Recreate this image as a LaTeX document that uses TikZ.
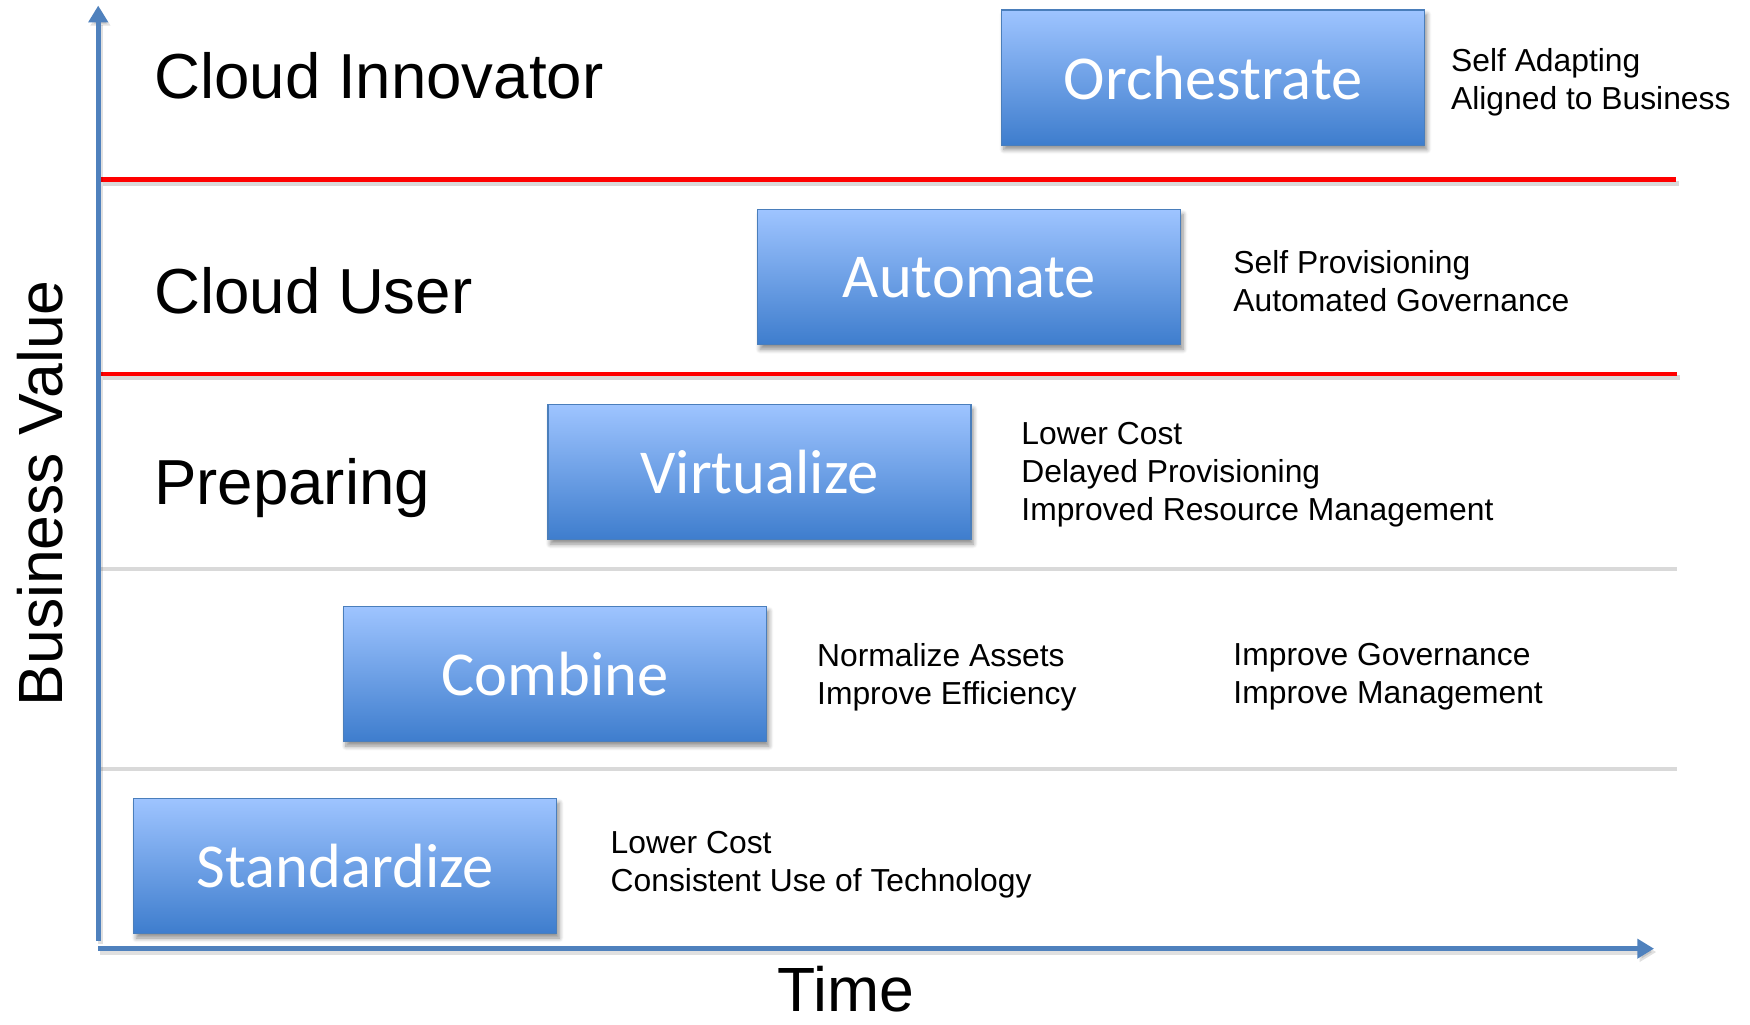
\documentclass[tikz,border=0pt]{standalone}
\usepackage{fontspec}
\setmainfont{Liberation Sans}
\newfontfamily\boxfont{Carlito}
\usetikzlibrary{arrows.meta,shadows,shadows.blur}
\definecolor{axisblue}{RGB}{79,129,189}
\definecolor{boxtop}{RGB}{158,196,255}
\definecolor{boxbot}{RGB}{62,125,205}
\definecolor{boxedge}{RGB}{74,126,187}
\definecolor{sepgray}{RGB}{217,217,217}
\tikzset{
  axisline/.style={draw=axisblue, line width=4.5pt, -{Triangle[length=15pt,width=17pt]},
    preaction={draw=black, opacity=0.12, line width=5pt, transform canvas={xshift=2pt,yshift=-3pt}}},
  redline/.style={draw=red, line width=4pt,
    preaction={draw=black, opacity=0.15, line width=4.5pt, transform canvas={xshift=2pt,yshift=-3pt}}},
  grayline/.style={draw=sepgray, line width=4pt},
  stagebox/.style={draw=boxedge, line width=1pt, top color=boxtop, bottom color=boxbot,
    minimum width=379pt, minimum height=121pt, inner sep=0pt,
    text=white, font=\boxfont\fontsize{56}{60}\selectfont,
    blur shadow={shadow xshift=2pt, shadow yshift=-4pt, shadow blur radius=4pt, shadow blur steps=6, shadow opacity=45}},
  levellabel/.style={anchor=base west, inner sep=0pt, font=\fontsize{57}{66}\selectfont},
  desc/.style={anchor=west, align=left, inner sep=0pt, font=\fontsize{28.5}{34}\selectfont},
  axislabel/.style={inner sep=0pt, font=\fontsize{56}{64}\selectfont}
}
\begin{document}
\begin{tikzpicture}[x=1pt,y=-1pt]
\useasboundingbox (0,0) rectangle (1568,918);

% separator lines
\coordinate (r1a) at (90,161);  \coordinate (r1b) at (1502,161);
\coordinate (r2a) at (90,335);  \coordinate (r2b) at (1503,335);
\coordinate (g1a) at (90,510);  \coordinate (g1b) at (1503,510);
\coordinate (g2a) at (90,689);  \coordinate (g2b) at (1503,689);
\draw[grayline] (g1a) -- (g1b);
\draw[grayline] (g2a) -- (g2b);
\draw[redline] (r1a) -- (r1b);
\draw[redline] (r2a) -- (r2b);

% axes
\coordinate (ybot) at (88,843);
\coordinate (ytop) at (88,5);
\coordinate (xleft) at (88,850);
\coordinate (xright) at (1482,850);
\draw[axisline] (ybot) -- (ytop);
\draw[axisline] (xleft) -- (xright);

% stage boxes
\node[stagebox] (orch) at (1087,69.5) {Orchestrate};
\node[stagebox] (auto) at (868.5,248.5) {Automate};
\node[stagebox] (virt) at (680.5,423) {Virtualize};
\node[stagebox] (comb) at (497.5,604) {Combine};
\node[stagebox] (stan) at (309.5,776) {Standardize};

% level labels
\node[levellabel] (innov) at (138,88) {Cloud Innovator};
\node[levellabel] (user) at (138,281) {Cloud User};
\node[levellabel] (prep) at (138,452) {Preparing};

% descriptions
\node[desc] (d1) at (1300,74) {Self Adapting\\Aligned to Business};
\node[desc] (d2) at (1105,251.5) {Self Provisioning\\Automated Governance};
\node[desc] (d3) at (915,425) {Lower Cost\\Delayed Provisioning\\Improved Resource Management};
\node[desc] (d4) at (732,606.5) {Normalize Assets\\Improve Efficiency};
\node[desc] (d5) at (1105,606.5) {Improve Governance\\Improve Management};
\node[desc] (d6) at (547,775) {Lower Cost\\Consistent Use of Technology};

% axis labels
\node[axislabel, rotate=90] (bv) at (36,442) {Business Value};
\node[axislabel, anchor=base] (time) at (758,906) {Time};
\end{tikzpicture}
\end{document}
